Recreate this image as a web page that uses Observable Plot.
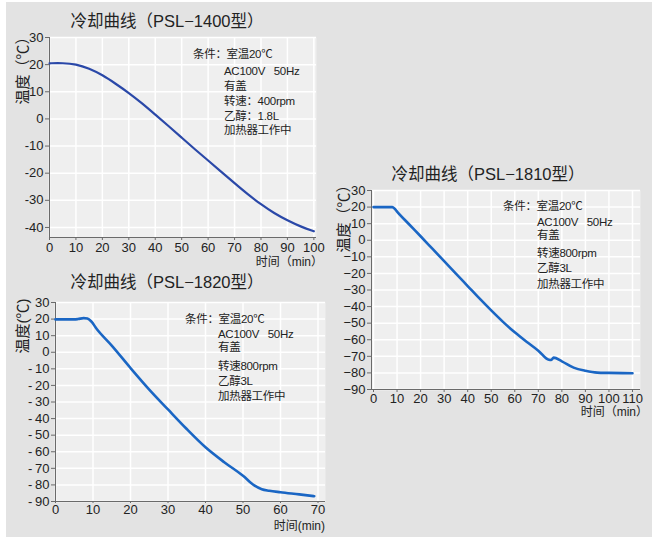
<!DOCTYPE html>
<html><head><meta charset="utf-8">
<script src="https://cdn.jsdelivr.net/npm/d3@7"></script>
<script src="https://cdn.jsdelivr.net/npm/@observablehq/plot@0.6"></script>
<style>
body{margin:0;background:#fff;}
#root{position:relative;width:652px;height:537px;overflow:hidden;background:#fff;font-family:"Liberation Sans",Arial,"Noto Sans CJK SC",sans-serif;color:#222;}
#bg{position:absolute;left:6px;top:2px;right:0;bottom:0;background:#e3e3e3;}
.abs{position:absolute;white-space:pre;line-height:1;}
.title{font-size:16.5px;transform:translate(-50%,-50%);}
.ylab{font-size:15px;transform:translate(-50%,-50%) rotate(-90deg);}
.xlab{font-size:12px;transform:translate(-100%,-50%);}
.note{font-size:11.5px;letter-spacing:-0.3px;transform:translateY(-50%);}
.plot{position:absolute;}
</style></head>
<body><div id="root"><div id="bg"></div></div>
<script>
// ---- Data ----
// PSL-1400
const time1400 = [0, 5, 10, 15, 20, 25, 30, 35, 40, 45, 50, 55, 60, 65, 70, 75, 80, 85, 90, 95, 100];
const temp1400 = [20.5, 20.6, 20.2, 18.6, 16.2, 13.0, 9.6, 5.8, 1.6, -2.6, -6.9, -11.2, -15.3, -19.5, -23.7, -27.8, -31.5, -34.8, -37.4, -39.7, -41.4];
const xTicks1400 = [0, 10, 20, 30, 40, 50, 60, 70, 80, 90, 100];
const yTicks1400 = [-40, -30, -20, -10, 0, 10, 20, 30];
// PSL-1810
const time1810 = [0, 5, 8, 9, 10, 15, 20, 25, 30, 35, 40, 45, 50, 55, 60, 65, 70, 74.5, 75.5, 76.5, 80, 85, 90, 95, 100, 110];
const temp1810 = [20, 20, 20, 19, 17.3, 9.8, 2.4, -5.1, -12.6, -20.1, -27.6, -35.1, -42.3, -49.2, -55.5, -61.2, -66.6, -72.1, -72.2, -70.8, -73.0, -76.8, -78.7, -79.8, -80.0, -80.2];
const xTicks1810 = [0, 10, 20, 30, 40, 50, 60, 70, 80, 90, 100, 110];
const yTicks1810 = [-90, -80, -70, -60, -50, -40, -30, -20, -10, 0, 10, 20, 30];
// PSL-1820
const time1820 = [0, 5, 6, 7.5, 8.5, 9.5, 11, 15, 20, 25, 30, 35, 40, 45, 50, 53, 55, 57, 60, 65, 69];
const temp1820 = [19.8, 19.8, 20.0, 20.6, 20.3, 18.7, 14.0, 4.0, -9.5, -22.5, -34.5, -46.3, -57.3, -66.3, -74.5, -80.3, -82.6, -83.5, -84.4, -85.7, -86.8];
const xTicks1820 = [0, 10, 20, 30, 40, 50, 60, 70];
const yTicks1820 = [-90, -80, -70, -60, -50, -40, -30, -20, -10, 0, 10, 20, 30];

const notes1400 = ["条件：室温20℃", "AC100V   50Hz", "有盖", "转速：400rpm", "乙醇：1.8L", "加热器工作中"];
const notes1810 = ["条件：室温20℃", "AC100V   50Hz", "有盖", "转速800rpm", "乙醇3L", "加热器工作中"];
const notes1820 = notes1810;

const root = document.getElementById("root");
function addText(cls, txt, left, top) {
  const d = document.createElement("div");
  d.className = "abs " + cls;
  d.textContent = txt;
  d.style.left = left + "px";
  d.style.top = top + "px";
  root.appendChild(d);
}

function chart(o) {
  const data = o.xs.map((t, i) => ({t, v: o.ys[i]}));
  const p = Plot.plot({
    width: o.w, height: o.h,
    marginLeft: o.ml, marginRight: o.mr, marginTop: o.mt, marginBottom: o.mb,
    style: {background: "transparent", fontSize: "13px", fontFamily: "'Liberation Sans', Arial, sans-serif", color: "#222", overflow: "visible"},
    x: {domain: o.xd},
    y: {domain: o.yd},
    marks: [
      Plot.frame({fill: "#efefef", stroke: "none"}),
      Plot.gridX(o.xt, {stroke: "#fff", strokeOpacity: 1, strokeWidth: 1.5}),
      Plot.gridY(o.yt, {stroke: "#fff", strokeOpacity: 1, strokeWidth: 1.5}),
      Plot.ruleX([o.xd[0]], {stroke: "#6a6a6a", strokeWidth: 1}),
      Plot.ruleY([o.yd[0]], {stroke: "#6a6a6a", strokeWidth: 1}),
      Plot.axisX(o.xt, {tickSize: o.tsx, tickPadding: o.tpx, stroke: "#6a6a6a", fill: "#222", label: null, tickFormat: d => String(d)}),
      Plot.axisY(o.yt, {tickSize: 4, tickPadding: 2, stroke: "#6a6a6a", fill: "#222", label: null, tickFormat: o.fmt}),
      Plot.line(data, {x: "t", y: "v", curve: o.curve, stroke: o.color, strokeWidth: o.sw})
    ]
  });
  p.classList.add("plot");
  p.style.left = o.left + "px";
  p.style.top = o.top + "px";
  root.appendChild(p);
}

// Chart 1: PSL-1400
chart({xs: time1400, ys: temp1400, xd: [0, 101], yd: [-43.7, 30], xt: xTicks1400, yt: yTicks1400,
  color: "#2a48a8", sw: 2.2, curve: "basis", fmt: d => String(d),
  left: 0, top: 0, w: 330, h: 262, ml: 49, mr: 14, mt: 37, mb: 25, tsx: 3, tpx: 2});
// Chart 2: PSL-1810
chart({xs: time1810, ys: temp1810, xd: [-0.85, 113.4], yd: [-90, 30], xt: xTicks1810, yt: yTicks1810,
  color: "#1a66c4", sw: 2.6, curve: "monotone-x", fmt: d => d < 0 ? "\u2212" + (-d) : String(d),
  left: 330, top: 180, w: 322, h: 240, ml: 41, mr: 12, mt: 10, mb: 31, tsx: 3, tpx: 1});
// Chart 3: PSL-1820
chart({xs: time1820, ys: temp1820, xd: [0, 72], yd: [-90, 30], xt: xTicks1820, yt: yTicks1820,
  color: "#1a66c4", sw: 2.6, curve: "monotone-x", fmt: d => d < 0 ? "-\u2009" + (-d) : String(d),
  left: 0, top: 290, w: 335, h: 247, ml: 55, mr: 10, mt: 12, mb: 36, tsx: 2, tpx: 1});

// Titles and labels
addText("title", "冷却曲线（PSL−1400型）", 167, 21);
addText("title", "冷却曲线（PSL−1810型）", 488, 174);
addText("title", "冷却曲线（PSL−1820型）", 167, 282);
addText("ylab", "温度（℃）", 22, 67);
addText("ylab", "温度（℃）", 343, 215);
addText("ylab", "温度(℃)", 22, 326);
addText("xlab", "时间（min）", 323, 262);
addText("xlab", "时间（min）", 648, 412);
addText("xlab", "时间(min)", 325, 526);

function notes(arr, x0, x1, ys) {
  arr.forEach((t, i) => addText("note", t, i === 0 ? x0 : x1, ys[i]));
}
notes(notes1400, 193, 224, [55, 72, 87, 102, 117, 131]);
notes(notes1810, 503, 537, [207, 223, 236, 254, 269, 285]);
notes(notes1820, 185, 218, [320, 335, 348, 367, 382, 397]);
</script>
</body></html>
